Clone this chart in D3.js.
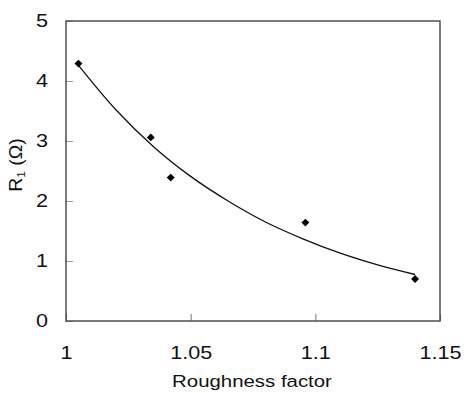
<!DOCTYPE html>
<html><head><meta charset="utf-8">
<script src="https://cdn.jsdelivr.net/npm/d3@7"></script>
<style>body{margin:0;background:#fff}svg{display:block}text{font-family:"Liberation Sans",Arial,sans-serif;fill:#111}</style>
</head><body>
<svg id="c" width="465" height="393"></svg>
<script>
const roughness = [1.005, 1.034, 1.042, 1.096, 1.140];
const r1Values = [4.29, 3.06, 2.39, 1.64, 0.70];
const fitX = [1.005, 1.02, 1.035, 1.05, 1.065, 1.08, 1.095, 1.11, 1.125, 1.14];
const fitY = [4.26, 3.52, 2.91, 2.41, 2.00, 1.65, 1.37, 1.13, 0.935, 0.775];
const xTicks = [1, 1.05, 1.1, 1.15];
const xTickLabels = ["1", "1.05", "1.1", "1.15"];
const yTicks = [0, 1, 2, 3, 4, 5];

const svg = d3.select("#c");
const L = 66, R = 440, T = 21, B = 321;
const SX = 1.2;
const x = d3.scaleLinear().domain([1, 1.15]).range([L, R]);
const y = d3.scaleLinear().domain([0, 5]).range([B, T]);

// ticks (inside)
const xa = svg.append("g").attr("transform", `translate(0,${B})`)
  .call(d3.axisBottom(x).tickValues(xTicks).tickSizeInner(-7).tickSizeOuter(0).tickFormat((d,i)=>xTickLabels[i]).tickPadding(25));
xa.select(".domain").remove();
xa.selectAll("line").attr("stroke", "#777").attr("stroke-width", 1);
xa.selectAll("text").attr("font-size", 18).attr("fill", "#111")
  .style("font-family", "Liberation Sans, Arial, sans-serif")
  .attr("transform", `scale(${SX},1)`);

const ya = svg.append("g").attr("transform", `translate(${L},0)`)
  .call(d3.axisLeft(y).tickValues(yTicks).tickSizeInner(-7).tickSizeOuter(0).tickFormat(d3.format("d")).tickPadding(18));
ya.select(".domain").remove();
ya.selectAll("line").attr("stroke", "#999").attr("stroke-width", 1);
ya.selectAll("text").attr("font-size", 18).attr("fill", "#111")
  .style("font-family", "Liberation Sans, Arial, sans-serif")
  .attr("x", 0).attr("transform", `translate(-18,0) scale(${SX},1)`);

// frame
svg.append("rect").attr("x", L).attr("y", T).attr("width", R - L).attr("height", B - T)
  .attr("fill", "none").attr("stroke", "#444").attr("stroke-width", 1.4);

// fitted curve
const fit = fitX.map((v, i) => [v, fitY[i]]);
svg.append("path").datum(fit)
  .attr("d", d3.line().x(d => x(d[0])).y(d => y(d[1])).curve(d3.curveMonotoneX))
  .attr("fill", "none").attr("stroke", "#111").attr("stroke-width", 1.3);

// markers
svg.append("g").selectAll("path").data(roughness.map((v, i) => [v, r1Values[i]])).join("path")
  .attr("transform", d => `translate(${x(d[0])},${y(d[1])})`)
  .attr("d", d3.symbol().type(d3.symbolDiamond2).size(40))
  .attr("fill", "#000");

// axis titles
svg.append("text").attr("transform", `translate(${(L + R) / 2 - 1},387) scale(${SX},1)`)
  .attr("text-anchor", "middle").attr("font-size", 17).text("Roughness factor");
const yt = svg.append("text").attr("transform", `translate(22,${(T + B) / 2 - 6}) rotate(-90) scale(1.08,1)`)
  .attr("text-anchor", "middle").attr("font-size", 18);
yt.append("tspan").text("R");
yt.append("tspan").attr("font-size", 11).attr("dy", 3).text("1");
yt.append("tspan").attr("dy", -3).text(" (Ω)");
</script>
</body></html>
